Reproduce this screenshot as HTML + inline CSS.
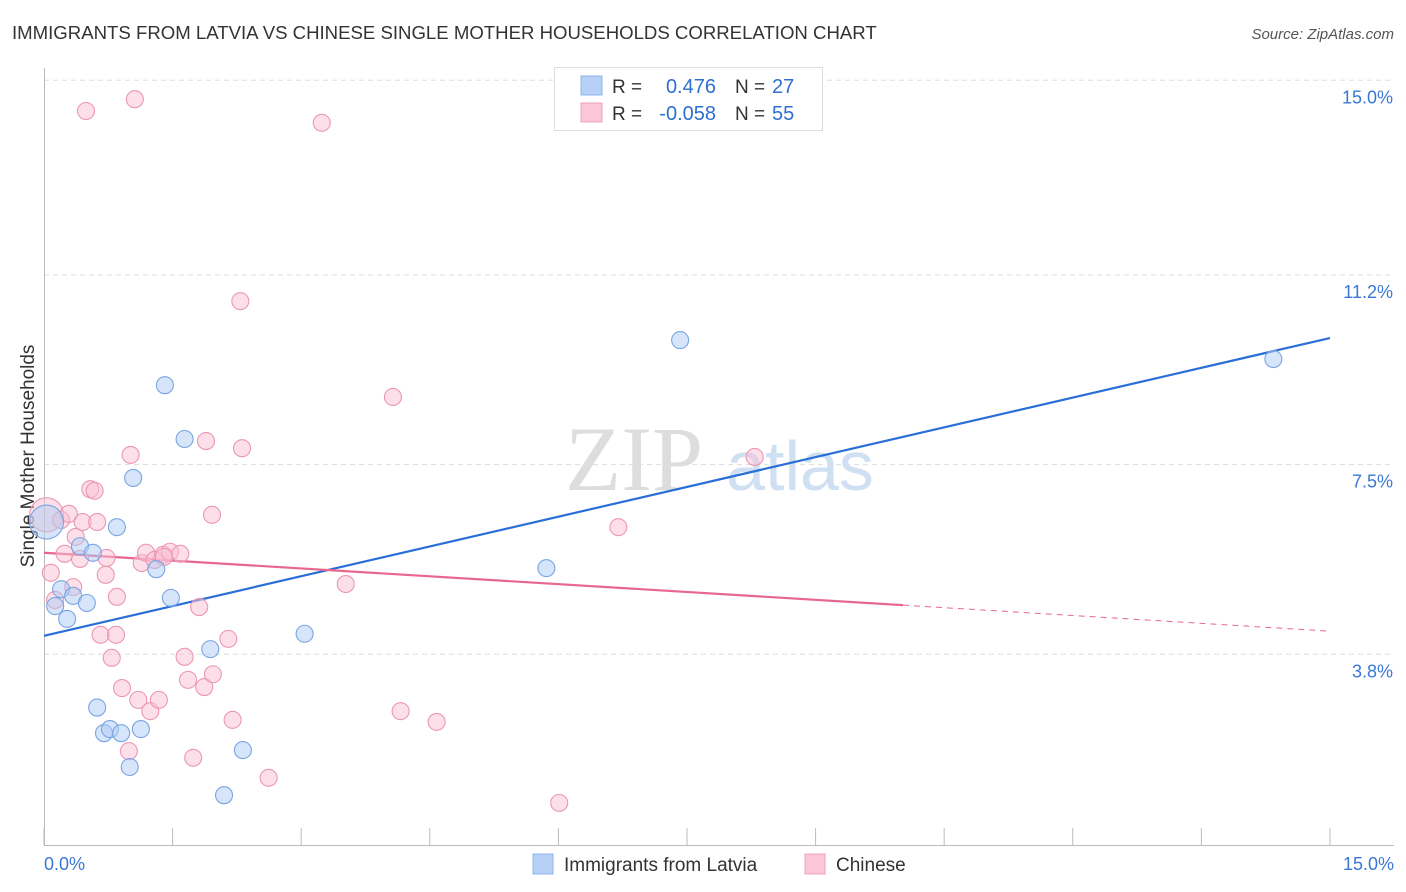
<!DOCTYPE html>
<html><head><meta charset="utf-8"><style>
body{margin:0;background:#fff;font-family:"Liberation Sans",sans-serif;}
svg{display:block}
</style></head><body>
<svg id="c" width="1406" height="892" xmlns="http://www.w3.org/2000/svg">
<text x="12" y="39" font-size="18.6" fill="#333">IMMIGRANTS FROM LATVIA VS CHINESE SINGLE MOTHER HOUSEHOLDS CORRELATION CHART</text>
<text x="1394" y="39" font-size="15" fill="#555" font-style="italic" text-anchor="end">Source: ZipAtlas.com</text>
<text x="0" y="0" font-size="19" fill="#333" text-anchor="middle" transform="translate(34,456) rotate(-90)">Single Mother Households</text>
<g>
<text x="634" y="490" font-size="92" font-family="Liberation Serif,serif" fill="#ddd" text-anchor="middle">ZIP</text>
<text x="800" y="490" font-size="70" fill="#cfe0f3" text-anchor="middle">atlas</text>
</g>
<g id="grid"></g><g id="axes"></g><g id="lines"></g><g id="pts"></g>
<g>
<rect x="554.5" y="67.5" width="268" height="63" fill="#fff" stroke="#ddd"/>
<rect x="581" y="76" width="21" height="19" fill="#b6d1f5" stroke="#8db5ea"/>
<rect x="581" y="103" width="21" height="19" fill="#f9c7d6" stroke="#eea3bb"/>
<text x="612" y="93" font-size="19" fill="#333">R = </text><text x="716" y="93" font-size="20" fill="#2f6fcf" text-anchor="end">0.476</text>
<text x="735" y="93" font-size="19" fill="#333">N = </text><text x="772" y="93" font-size="20" fill="#2f6fcf">27</text>
<text x="612" y="120" font-size="19" fill="#333">R = </text><text x="716" y="120" font-size="20" fill="#2f6fcf" text-anchor="end">-0.058</text>
<text x="735" y="120" font-size="19" fill="#333">N = </text><text x="772" y="120" font-size="20" fill="#2f6fcf">55</text>
</g>
<g>
<rect x="533" y="854" width="20" height="20" fill="#b6d1f5" stroke="#8db5ea"/>
<text x="564" y="871" font-size="19" fill="#333">Immigrants from Latvia</text>
<rect x="805" y="854" width="20" height="20" fill="#f9c7d6" stroke="#eea3bb"/>
<text x="836" y="871" font-size="19" fill="#333">Chinese</text>
</g>
</svg>
<script>
const yTicks=[15.0,11.2,7.5,3.8];
const xTickLabels=["0.0%","15.0%"];
const blueX=[0.03,0.13,0.20,0.27,0.34,0.42,0.50,0.57,0.62,0.70,0.77,0.85,0.90,1.00,1.04,1.13,1.31,1.41,1.48,1.64,1.94,2.10,2.32,3.04,5.86,7.42,14.34];
const blueY=[6.38,4.74,5.07,4.49,4.94,5.91,4.80,5.78,2.76,2.26,2.34,6.28,2.26,1.60,7.24,2.34,5.46,9.05,4.90,8.00,3.90,1.05,1.93,4.20,5.48,9.93,9.56];
const pinkX=[0.03,0.08,0.13,0.20,0.24,0.29,0.34,0.37,0.42,0.45,0.49,0.54,0.59,0.62,0.66,0.72,0.73,0.79,0.84,0.85,0.91,0.99,1.01,1.06,1.10,1.14,1.19,1.24,1.29,1.34,1.39,1.47,1.59,1.64,1.68,1.74,1.81,1.87,1.89,1.96,1.97,2.15,2.20,2.29,2.31,2.62,3.24,3.52,4.07,4.16,4.58,6.01,6.70,8.29,1.40];
const pinkY=[6.52,5.39,4.86,6.42,5.76,6.54,5.11,6.09,5.66,6.38,14.40,7.02,6.99,6.38,4.18,5.35,5.68,3.73,4.18,4.92,3.14,1.91,7.69,14.63,2.91,5.58,5.78,2.69,5.64,2.91,5.74,5.80,5.76,3.75,3.30,1.78,4.72,3.16,7.96,6.52,3.41,4.10,2.52,10.69,7.82,1.39,14.17,5.17,8.82,2.69,2.48,0.90,6.28,7.65,5.70];
const blueTrend=[4.16,9.97];
const pinkTrend=[5.78,4.25];
const pinkSolidEnd=10.02;
const NS="http://www.w3.org/2000/svg";
const sx=v=>44+v*85.73, sy=v=>849-v*51.25;
function mk(p,t,a){const e=document.createElementNS(NS,t);for(const k in a)e.setAttribute(k,a[k]);document.getElementById(p).appendChild(e);return e;}
yTicks.forEach(t=>{
 const l=mk('grid','line',{x1:44,x2:1394,y1:sy(t),y2:sy(t),stroke:'#ddd','stroke-dasharray':'5,4'});
 
 
 const tx=mk('grid','text',{x:1393,y:sy(t)+23,'font-size':18,fill:'#3a78d4','text-anchor':'end'});
 tx.textContent=t.toFixed(1)+'%';
 
 
});
mk('axes','line',{x1:44.5,x2:44.5,y1:68,y2:845,stroke:'#bbb'});
mk('axes','line',{x1:44,x2:1394,y1:845.5,y2:845.5,stroke:'#bbb'});
for(let i=0;i<=10;i++){const x=sx(i*1.5);mk('axes','line',{x1:x,x2:x,y1:828,y2:845,stroke:'#bbb'});}
[[0,'start',44],[15,'end',1394]].forEach((d,i)=>{
 const t=mk('axes','text',{x:d[2],y:870,'font-size':18,fill:'#3a78d4','text-anchor':d[1]});
 t.textContent=xTickLabels[i];
 
 
});
function pts(X,Y,fill,stroke,name){X.forEach((x,i)=>{
 const big=i===0;
 const c=mk('pts','circle',{cx:sx(x),cy:sy(Y[i]),r:big?17:8.5,fill:fill,'fill-opacity':0.5,stroke:stroke,'stroke-width':1.1});
 
 
});}
pts(pinkX,pinkY,'#f9c0d2','#eb97b3','chinese-point');
pts(blueX,blueY,'#aecbf3','#7aa5e3','latvia-point');
const bl=mk('lines','line',{x1:sx(0),y1:sy(blueTrend[0]),x2:sx(15),y2:sy(blueTrend[1]),stroke:'#2a6fd6','stroke-width':2.2});


const pv=x=>pinkTrend[0]+(pinkTrend[1]-pinkTrend[0])*x/15;
const pl=mk('lines','line',{x1:sx(0),y1:sy(pv(0)),x2:sx(pinkSolidEnd),y2:sy(pv(pinkSolidEnd)),stroke:'#e8678f','stroke-width':2.2});


const pd=mk('lines','line',{x1:sx(pinkSolidEnd),y1:sy(pv(pinkSolidEnd)),x2:sx(15),y2:sy(pv(15)),stroke:'#e8678f','stroke-width':1,'stroke-dasharray':'6,5'});


</script>
</body></html>
